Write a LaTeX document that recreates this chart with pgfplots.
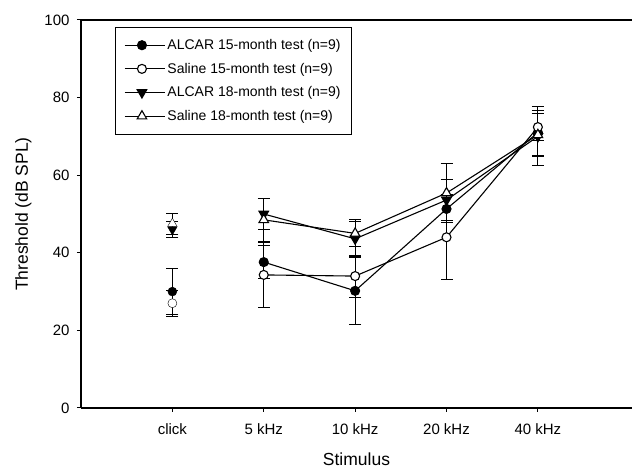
\documentclass[border=0pt]{standalone}
\usepackage{fontspec}
\setmainfont{Liberation Sans}
\usepackage{pgfplots}
\pgfplotsset{compat=1.18}

\pgfplotsset{
  errstyle/.style={
    /pgfplots/error bars/y dir=both,
    /pgfplots/error bars/y explicit,
    /pgfplots/error bars/error bar style={black, line width=1pt, solid},
    /pgfplots/error bars/error mark options={black, mark size=6pt, line width=1pt, rotate=90, solid, fill=black},
  },
}

\begin{document}
\begin{tikzpicture}
\path[use as bounding box] (-81pt,-63pt) rectangle (551pt,408pt);
\begin{axis}[
  scale only axis,
  width=551pt, height=388pt,
  xmin=-1, xmax=5.03, ymin=0, ymax=100,
  axis x line=box, axis y line=left,
  axis line style={line width=1.1pt, -},
  xtick pos=bottom, ytick pos=left,
  tick align=outside, major tick length=4pt,
  tick style={black, line width=1pt},
  xtick={0,1,2,3,4},
  xticklabels={click,5 kHz,10 kHz,20 kHz,40 kHz},
  ytick={0,20,40,60,80,100},
  /pgf/number format/assume math mode=true,
  tick label style={font=\fontsize{15}{17}\selectfont},
  xticklabel style={yshift=-8pt},
  yticklabel style={xshift=-4pt},
  label style={font=\fontsize{17.5}{20}\selectfont},
  xlabel={Stimulus},
  ylabel={Threshold (dB SPL)},
  xlabel style={yshift=-11pt},
  ylabel style={yshift=6pt},
  legend style={at={(34pt,381pt)}, anchor=north west,
    draw=black, line width=0.8pt, fill=white,
    font=\fontsize{14}{16}\selectfont,
    row sep=8pt, inner xsep=9pt, inner ysep=10pt,
    legend cell align=left},
  legend image code/.code={%
    \path (0pt,0pt) -- (40pt,0pt);
    \draw[mark repeat=2,mark phase=2,#1] plot coordinates {(0pt,0pt) (17pt,0pt) (34pt,0pt)};},
  clip=false,
]
% ALCAR 15-month
\addplot[black, line width=1.1pt, mark=*, mark size=4.5pt, mark options={fill=black, solid}, errstyle]
  coordinates {(1,37.6) +- (0,4.2) (2,30.2) +- (0,8.7) (3,51.3) +- (0,3.5) (4,71) +- (0,5.8)};
\addlegendentry{ALCAR 15-month test (n=9)}
% Saline 15-month
\addplot[black, line width=1.1pt, mark=*, mark size=4.5pt, mark options={fill=white, solid}, errstyle]
  coordinates {(1,34.3) +- (0,8.4) (2,34) +- (0,5.4) (3,44) +- (0,11) (4,72.4) +- (0,3.5)};
\addlegendentry{Saline 15-month test (n=9)}
% ALCAR 18-month
\addplot[black, line width=1.1pt, mark=triangle*, mark size=5.5pt, mark options={fill=black, rotate=180, solid}, errstyle]
  coordinates {(1,50) +- (0,4) (2,43.6) +- (0,4.5) (3,53.6) +- (0,5.4) (4,70) +- (0,7.6)};
\addlegendentry{ALCAR 18-month test (n=9)}
% Saline 18-month
\addplot[black, line width=1.1pt, mark=triangle*, mark size=5.5pt, mark options={fill=white, solid}, errstyle]
  coordinates {(1,48.5) +- (0,5.5) (2,45) +- (0,3.5) (3,55.4) +- (0,7.7) (4,70.4) +- (0,5.6)};
\addlegendentry{Saline 18-month test (n=9)}
% click responses (not joined)
\addplot[forget plot, black, only marks, mark=*, mark size=4.5pt, mark options={fill=black}, errstyle]
  coordinates {(0,30) +- (0,6)};
\addplot[forget plot, black, only marks, mark=*, mark size=4.5pt, mark options={fill=white}, errstyle]
  coordinates {(0,27) +- (0,3.3)};
\addplot[forget plot, black, only marks, mark=triangle*, mark size=5.5pt, mark options={fill=black, rotate=180}, errstyle]
  coordinates {(0,46) +- (0,2)};
\addplot[forget plot, black, only marks, mark=triangle*, mark size=5.5pt, mark options={fill=white}, errstyle]
  coordinates {(0,47.5) +- (0,2.7)};
\end{axis}
\end{tikzpicture}
\end{document}
